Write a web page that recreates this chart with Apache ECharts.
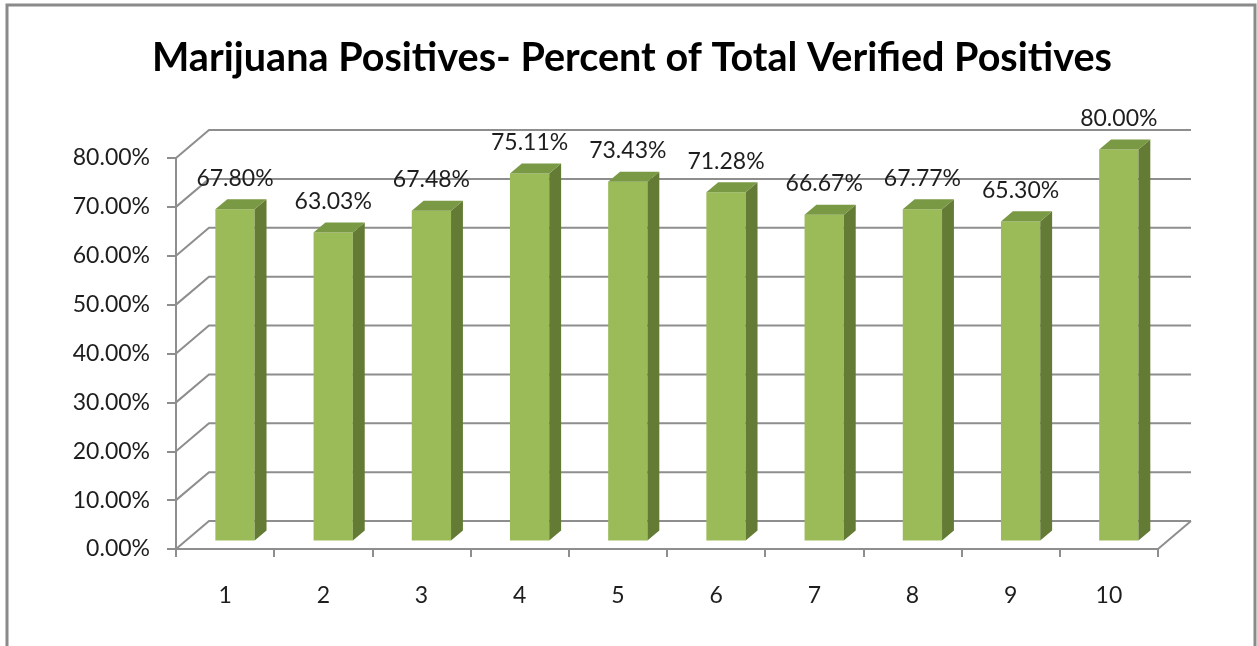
<!DOCTYPE html>
<html><head><meta charset="utf-8">
<script src="https://cdn.jsdelivr.net/npm/echarts@6/dist/echarts.min.js"></script>
<style>html,body{margin:0;padding:0;background:#fff}#c{width:1257px;height:646px}</style>
</head><body><div id="c"></div>
<script>
const titleText = 'Marijuana Positives- Percent of Total Verified Positives';
const categories = ['1', '2', '3', '4', '5', '6', '7', '8', '9', '10'];
const values = [67.80, 63.03, 67.48, 75.11, 73.43, 71.28, 66.67, 67.77, 65.30, 80.00];
const yTicks = [0, 10, 20, 30, 40, 50, 60, 70, 80];

const DX = 33, DY = -28;          // depth vector of the 3D box
const FRONT = 0.30, BACK = 0.66;  // bar depth fractions
const GRID_COLOR = '#8e8e8e';
const TEXT_COLOR = '#1e1e1e';
const FONT = 'Lato';

const ctx = document.createElement('canvas').getContext('2d');
ctx.font = 'bold 40px ' + FONT;
const titleScale = 960 / ctx.measureText(titleText).width;

const chart = echarts.init(document.getElementById('c'), null, {renderer: 'canvas'});
chart.setOption({
  animation: false,
  backgroundColor: '#fff',
  grid: {left: 176, right: 99, top: 158, bottom: 97, containLabel: false},
  xAxis: {
    type: 'category',
    data: categories,
    axisLine: {show: true, lineStyle: {color: GRID_COLOR, width: 2}},
    axisTick: {show: true, length: 8, lineStyle: {color: GRID_COLOR, width: 2}},
    axisLabel: {margin: 35, fontFamily: FONT, fontSize: 23, color: TEXT_COLOR},
    splitLine: {show: false}
  },
  yAxis: {
    type: 'value', min: 0, max: 80, interval: 10,
    axisLine: {show: true, lineStyle: {color: GRID_COLOR, width: 2}},
    axisTick: {show: true, length: 9, lineStyle: {color: GRID_COLOR, width: 2}},
    axisLabel: {margin: 26, fontFamily: FONT, fontSize: 23, color: TEXT_COLOR,
      formatter: v => v.toFixed(2) + '%'},
    splitLine: {show: false}
  },
  graphic: [
    {type: 'rect', shape: {x: 7, y: 5, width: 1248, height: 700},
     style: {fill: 'none', stroke: '#8a8a8a', lineWidth: 3}, z: 100, silent: true},
    {type: 'text', x: 632, y: 58, scaleX: titleScale,
     style: {text: titleText, font: 'bold 40px ' + FONT, fill: '#000',
       textAlign: 'center', textVerticalAlign: 'middle'}}
  ],
  series: [
    {
      type: 'custom', name: 'walls', z: 1, silent: true,
      data: yTicks.map(v => [0, v]),
      renderItem: function (params, api) {
        const v = api.value(1);
        const y = api.coord([0, v])[1];
        const cs = params.coordSys;
        const x0 = cs.x, x1 = cs.x + cs.width;
        const children = [{
          type: 'polyline',
          shape: {points: [[x0, y], [x0 + DX, y + DY], [x1 + DX, y + DY]]},
          style: {stroke: GRID_COLOR, lineWidth: 2, fill: 'none'}
        }];
        if (v === 0) {
          children.push({type: 'line', shape: {x1: x1, y1: y, x2: x1 + DX, y2: y + DY},
            style: {stroke: GRID_COLOR, lineWidth: 2}});
        }
        return {type: 'group', children: children};
      }
    },
    {
      type: 'custom', name: 'bars', z: 5,
      data: values.map((v, i) => [i, v]),
      renderItem: function (params, api) {
        const i = api.value(0), v = api.value(1);
        const c = api.coord([i, v]);
        const base = api.coord([i, 0]);
        const bw = api.size([1, 0])[0] * 0.4;
        const fx = DX * FRONT, fy = DY * FRONT;
        const ddx = DX * (BACK - FRONT), ddy = DY * (BACK - FRONT);
        const L = c[0] - bw / 2 + fx, R = c[0] + bw / 2 + fx;
        const T = c[1] + fy, B = base[1] + fy;
        return {type: 'group', children: [
          {type: 'rect', shape: {x: L, y: T, width: R - L, height: B - T},
           style: {fill: '#9BBB59'}},
          {type: 'polygon', shape: {points: [[R, T], [R + ddx, T + ddy], [R + ddx, B + ddy], [R, B]]},
           style: {fill: '#637B34'}},
          {type: 'polygon', shape: {points: [[L, T], [R, T], [R + ddx, T + ddy], [L + ddx, T + ddy]]},
           style: {fill: '#7A9944'}},
          {type: 'text', x: (L + R) / 2, y: T + ddy - 21,
           style: {text: v.toFixed(2) + '%', font: '23px ' + FONT, fill: TEXT_COLOR,
             textAlign: 'center', textVerticalAlign: 'middle'}}
        ]};
      }
    }
  ]
});
</script></body></html>
